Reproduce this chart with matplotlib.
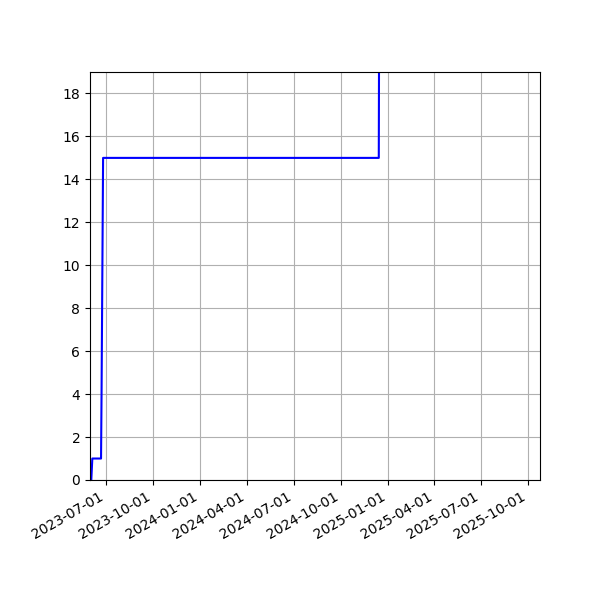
import datetime
import matplotlib
matplotlib.use('Agg')
import matplotlib.pyplot as plt
import matplotlib.dates as mdates

dates = ['2023-06-03', '2023-06-05', '2023-06-22', '2023-06-23', '2023-06-26',
         '2024-12-14', '2024-12-15']
counts = [0, 1, 1, 4, 15, 15, 25]
tick_dates = ['2023-07-01', '2023-10-01', '2024-01-01', '2024-04-01', '2024-07-01',
              '2024-10-01', '2025-01-01', '2025-04-01', '2025-07-01', '2025-10-01']
y_ticks = [0, 2, 4, 6, 8, 10, 12, 14, 16, 18]

x = [datetime.datetime.strptime(d, '%Y-%m-%d') for d in dates]
ticks = [datetime.datetime.strptime(d, '%Y-%m-%d') for d in tick_dates]

fig, ax = plt.subplots(figsize=(6, 6), dpi=100)
ax.plot(x, counts, color='blue')
ax.set_xlim(datetime.datetime(2023, 5, 31, 12), datetime.datetime(2025, 10, 24))
ax.set_ylim(0, 19)
ax.set_xticks(ticks)
ax.set_yticks(y_ticks)
ax.xaxis.set_major_formatter(mdates.DateFormatter('%Y-%m-%d'))
ax.grid(True)
fig.autofmt_xdate()
fig.subplots_adjust(left=0.15, right=0.9, top=0.88, bottom=0.2)
fig.savefig('out.png')
